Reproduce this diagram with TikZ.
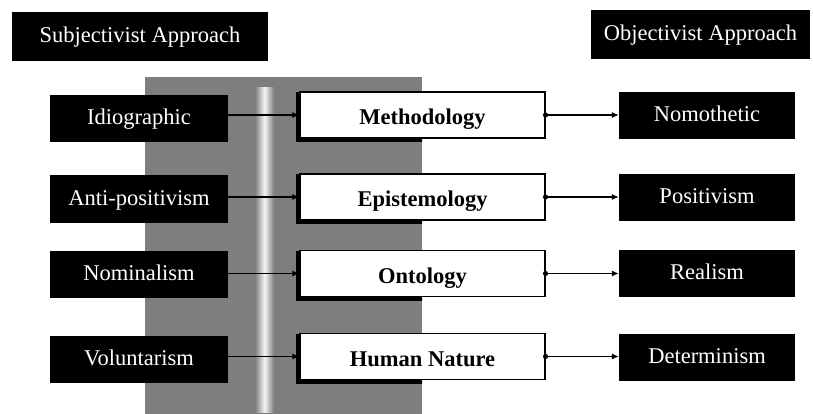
\documentclass[tikz,border=0pt]{standalone}
\usepackage{fontspec}
\setmainfont{Liberation Serif}
\usetikzlibrary{arrows.meta}
\definecolor{panelgray}{HTML}{7E7E7E}
\tikzset{
  lbl/.style={font=\fontsize{22.5}{26}\selectfont, text height=17pt, text depth=4pt},
  darkbox/.style={lbl, fill=black, text=white, inner sep=0pt, minimum height=47pt},
  sidebox/.style={darkbox, minimum width=178pt},
  goalbox/.style={darkbox, minimum width=176pt},
  headbox/.style={darkbox, minimum height=49pt},
  midbox/.style={lbl, font=\fontsize{22.5}{26}\selectfont\bfseries, text height=23pt,
    draw=black, line width=1.1pt, fill=white, inner sep=0pt,
    minimum width=245pt, minimum height=46pt},
  conn/.style={draw=black, line width=1.1pt, -{Latex[length=7pt,width=6pt]}},
  shadow/.style={fill=black}
}
\begin{document}
\begin{tikzpicture}[x=1pt,y=-1pt]
\useasboundingbox (0,0) rectangle (813,414);

% grey panel behind the central column
\fill[panelgray] (145,77) rectangle (422,414);
\shade[left color=panelgray, right color=panelgray, middle color=white!92!panelgray] (255,88) rectangle (274,412);

% headings
\node[headbox, minimum width=256pt] (subj) at (140,36.5) {Subjectivist Approach};
\node[headbox, minimum width=219pt] (obj) at (700.5,34.5) {Objectivist Approach};

% subjectivist positions
\node[sidebox] (s1) at (139,118.5) {Idiographic};
\node[sidebox] (s2) at (139,199) {Anti-positivism};
\node[sidebox] (s3) at (139,274) {Nominalism};
\node[sidebox] (s4) at (139,359) {Voluntarism};

% shadows of the central boxes, only inside the grey panel
\begin{scope}
  \clip (145,77) rectangle (422,414);
  \foreach \y in {115,197,273.5,356.5}
    \fill[shadow] (296,\y-23) rectangle (430,\y+27);
\end{scope}

% central assumptions
\node[midbox] (m1) at (422.5,115) {Methodology};
\node[midbox] (m2) at (422.5,197) {Epistemology};
\node[midbox] (m3) at (422.5,273.5) {Ontology};
\node[midbox] (m4) at (422.5,356.5) {Human Nature};

% objectivist positions
\node[goalbox] (o1) at (707,115.5) {Nomothetic};
\node[goalbox] (o2) at (707,197.5) {Positivism};
\node[goalbox] (o3) at (707,273) {Realism};
\node[goalbox] (o4) at (707,357) {Determinism};

% connectors
\foreach \i in {1,2,3,4}{
  \draw[conn] (s\i.east |- m\i.west) -- (m\i.west);
  \draw[conn] (m\i.east) -- (o\i.west |- m\i.east);
  \fill (m\i.east) circle (2.6pt);
}
\end{tikzpicture}
\end{document}
